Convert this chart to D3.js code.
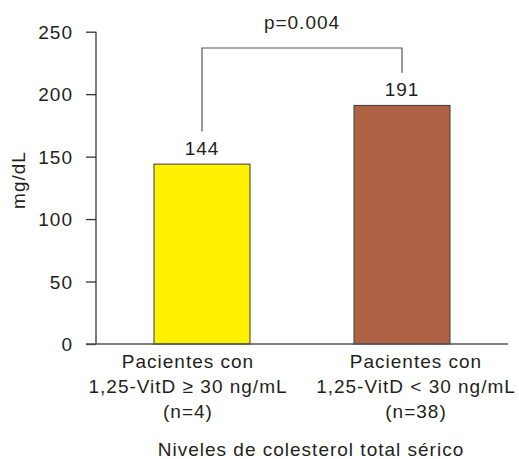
<!DOCTYPE html>
<html>
<head>
<meta charset="utf-8">
<script src="https://cdn.jsdelivr.net/npm/d3@7"></script>
<style>
  html, body { margin: 0; padding: 0; background: #fff; }
  svg text { font-family: "Liberation Sans", Arial, Helvetica, sans-serif; fill: #231f20; letter-spacing: 1px; }
</style>
</head>
<body>
<svg id="chart" width="519" height="459"></svg>
<script>
// Total serum cholesterol by vitamin D group
const groups = ["ge30", "lt30"];
const groupLabels = [
  ["Pacientes con", "1,25-VitD \u2265 30 ng/mL", "(n=4)"],
  ["Pacientes con", "1,25-VitD < 30 ng/mL", "(n=38)"]
];
const values = [144, 191];
const barColors = ["#fff200", "#ae6244"];
const yTicks = [0, 50, 100, 150, 200, 250];
const pValueText = "p=0.004";
const yTitle = "mg/dL";
const xTitle = "Niveles de colesterol total s\u00e9rico";

const svg = d3.select("#chart");
const ink = "#231f20";
const plotLeft = 96, plotRight = 508, plotTop = 31.7, plotBottom = 344;

const x = d3.scaleBand().domain(groups).range([plotLeft, plotRight])
  .paddingInner(0.52).paddingOuter(0.29);
const y = d3.scaleLinear().domain([0, 250]).range([plotBottom, plotTop]);

// y axis
const yAxis = svg.append("g")
  .attr("transform", `translate(${plotLeft},0)`)
  .call(d3.axisLeft(y).tickValues(yTicks).tickSize(10).tickPadding(13));
yAxis.select(".domain").attr("stroke", "#333").attr("stroke-width", 1.3)
  .attr("d", `M0,${plotTop}V${plotBottom}`);
yAxis.selectAll(".tick line").attr("stroke", "#333").attr("stroke-width", 1.3);
yAxis.selectAll(".tick text").attr("font-size", 19).attr("fill", ink)
  .attr("font-family", null).attr("dy", "0.35em");

// bars
svg.append("g").selectAll("rect")
  .data(groups)
  .join("rect")
  .attr("x", d => x(d))
  .attr("width", x.bandwidth())
  .attr("y", (d, i) => y(values[i]))
  .attr("height", (d, i) => plotBottom - y(values[i]))
  .attr("fill", (d, i) => barColors[i])
  .attr("stroke", "#3a3a3a")
  .attr("stroke-width", 1);

// x baseline
svg.append("line")
  .attr("x1", plotLeft - 10).attr("x2", plotRight)
  .attr("y1", plotBottom).attr("y2", plotBottom)
  .attr("stroke", "#555").attr("stroke-width", 1.3);

// value labels
const cx = d => x(d) + x.bandwidth() / 2;
svg.append("g").selectAll("text")
  .data(groups)
  .join("text")
  .attr("x", d => cx(d))
  .attr("y", (d, i) => y(values[i]) - 9)
  .attr("text-anchor", "middle")
  .attr("font-size", 19)
  .text((d, i) => values[i]);

// significance bracket
const capH = 19 * 0.716;
const bracketY = 48;
const endY = values.map(v => y(v) - 9 - capH - 10);
svg.append("path")
  .attr("d", `M${cx(groups[0])},${endY[0]}V${bracketY}H${cx(groups[1])}V${endY[1]}`)
  .attr("fill", "none").attr("stroke", "#555").attr("stroke-width", 1.2);
svg.append("text")
  .attr("x", (cx(groups[0]) + cx(groups[1])) / 2)
  .attr("y", 29)
  .attr("text-anchor", "middle")
  .attr("font-size", 19)
  .text(pValueText);

// category labels, spread slightly outward
const spread = [-14, 14];
groups.forEach((g, i) => {
  const t = svg.append("text")
    .attr("text-anchor", "middle")
    .attr("font-size", 19);
  groupLabels[i].forEach((line, j) => {
    t.append("tspan")
      .attr("x", cx(g) + spread[i])
      .attr("y", 368 + j * 25)
      .text(line);
  });
});

// axis titles
svg.append("text")
  .attr("transform", `translate(25,180) rotate(-90)`)
  .attr("text-anchor", "middle")
  .attr("font-size", 19)
  .text(yTitle);
svg.append("text")
  .attr("x", 311).attr("y", 456)
  .attr("text-anchor", "middle")
  .attr("font-size", 19)
  .text(xTitle);
</script>
</body>
</html>
